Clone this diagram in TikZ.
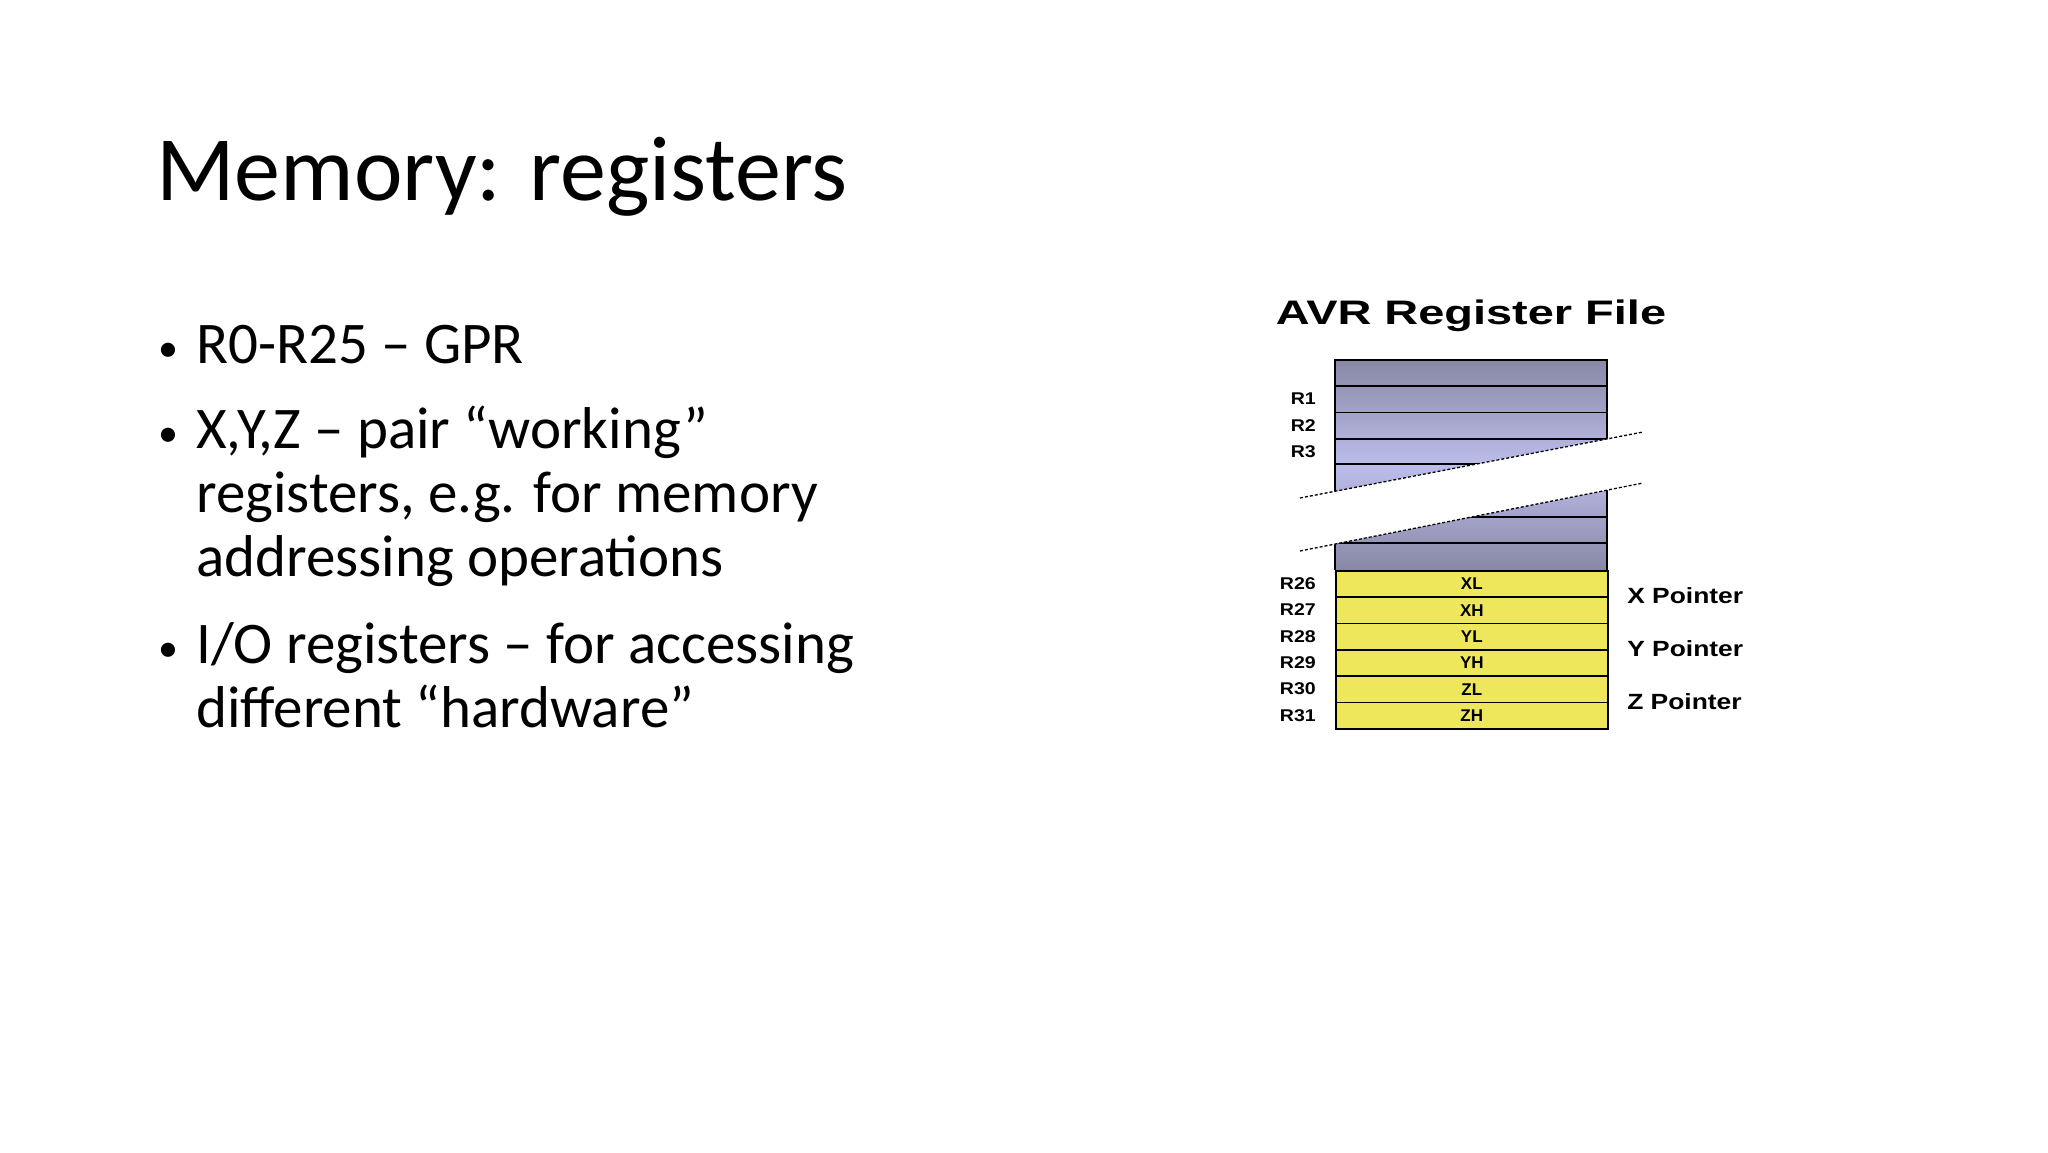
\documentclass[tikz,border=0pt]{standalone}
\usepackage{fontspec}
\setmainfont{Carlito}
\newfontfamily\arial{Liberation Sans}
\begin{document}
\begin{tikzpicture}[x=1pt,y=-1pt,
  reglbl/.style={font=\arial\bfseries\fontsize{17}{17}\selectfont,anchor=east,inner sep=0,xscale=1.15},
  yrow/.style={draw=black,line width=1.6pt,fill=yellow!55!white!85!olive,minimum width=272pt,minimum height=26.33pt,inner sep=0,anchor=north west,font=\arial\bfseries\fontsize{17}{17}\selectfont},
  ptr/.style={font=\arial\bfseries\fontsize{22}{22}\selectfont,anchor=west,inner sep=0,xscale=1.2},
  bul/.style={font=\fontsize{40}{40}\selectfont,anchor=base west,inner sep=0},
  btxt/.style={font=\fontsize{59}{59}\selectfont,anchor=base west,inner sep=0}]
\useasboundingbox (0,0) rectangle (2048,1152);
\fill[white] (0,0) rectangle (2048,1152);
% slide title
\node[font=\fontsize{92}{92}\selectfont,anchor=base west,inner sep=0] (title) at (156,200) {Memory: registers};
% bullets
\node[bul] (b1) at (158,361) {•};
\node[btxt] (t1) at (196,363) {R0-R25 – GPR};
\node[bul] (b2) at (158,446) {•};
\node[btxt] (t2) at (196,448) {X,Y,Z – pair “working”};
\node[btxt] (t2b) at (196,512) {registers, e.g. for memory};
\node[btxt] (t2c) at (196,576) {addressing operations};
\node[bul] (b3) at (158,661) {•};
\node[btxt] (t3) at (196,663) {I/O registers – for accessing};
\node[btxt] (t3b) at (196,727) {different “hardware”};
% diagram title
\node[font=\arial\bfseries\fontsize{34}{34}\selectfont,inner sep=0,xscale=1.38] (dtitle) at (1471,316) {AVR Register File};
% purple area
\definecolor{pdark}{HTML}{8888A6}
\definecolor{plight}{HTML}{BDBDEB}
\shade[top color=pdark,bottom color=plight] (1335,360) rectangle (1607,465);
\shade[top color=plight,bottom color=pdark] (1335,465) rectangle (1607,570);
\foreach \yy in {386,412.5,439,464,517,543} \draw[line width=1.3pt] (1335,\yy) -- (1607,\yy);
\draw[line width=1.8pt] (1335,570) -- (1335,360) -- (1607,360) -- (1607,570);
% break band
\fill[white] (1300,498) -- (1643,432) -- (1643,483) -- (1300,551) -- cycle;
\coordinate (ba) at (1300,498); \coordinate (bb) at (1643,432);
\coordinate (bc) at (1300,551); \coordinate (bd) at (1643,483);
\draw[line width=1.3pt,dash pattern=on 3pt off 2pt] (ba) -- (bb);
\draw[line width=1.3pt,dash pattern=on 3pt off 2pt] (bc) -- (bd);
% yellow rows
\node[yrow] (xl) at (1335,570) {XL};
\node[yrow] (xh) at (1335,596.33) {XH};
\node[yrow] (yl) at (1335,622.67) {YL};
\node[yrow] (yh) at (1335,649) {YH};
\node[yrow] (zl) at (1335,675.33) {ZL};
\node[yrow] (zh) at (1335,701.67) {ZH};
% labels
\node[reglbl] (r1) at (1316,399) {R1};
\node[reglbl] (r2) at (1316,426) {R2};
\node[reglbl] (r3) at (1316,452) {R3};
\node[reglbl] (r26) at (1316,584) {R26};
\node[reglbl] (r27) at (1316,610) {R27};
\node[reglbl] (r28) at (1316,637) {R28};
\node[reglbl] (r29) at (1316,663) {R29};
\node[reglbl] (r30) at (1316,689) {R30};
\node[reglbl] (r31) at (1316,716) {R31};
\node[ptr] (xp) at (1627,596) {X Pointer};
\node[ptr] (yp) at (1627,649) {Y Pointer};
\node[ptr] (zp) at (1627,702) {Z Pointer};
\end{tikzpicture}
\end{document}
